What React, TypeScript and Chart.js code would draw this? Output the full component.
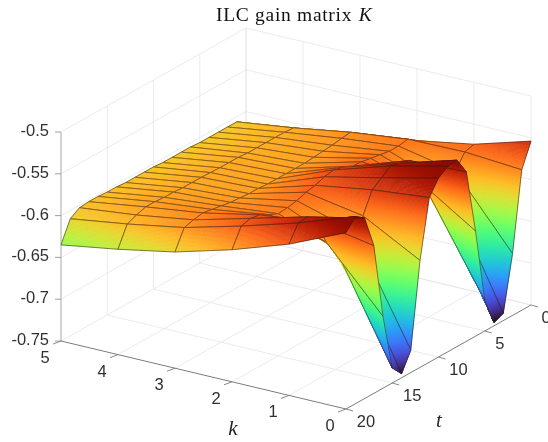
import React, { useEffect, useRef } from "react";
import { Chart, registerables } from "chart.js";

Chart.register(...registerables);

const kValues = [0, 1, 2, 3, 4, 5];
const tValues = [0, 1, 2, 3, 4, 5, 6, 7, 8, 9, 10, 11, 12, 13, 14, 15, 16, 17, 18, 19, 20];
const zTicks = ["-0.5", "-0.55", "-0.6", "-0.65", "-0.7", "-0.75"];
const zTickValues = [-0.5, -0.55, -0.6, -0.65, -0.7, -0.75];
const kTicks = [0, 1, 2, 3, 4, 5];
const tTicks = [0, 5, 10, 15, 20];

// gain values, one row per k, indexed by t = 0..20
const zK0 = [-0.554, -0.582, -0.676, -0.741, -0.746, -0.713, -0.624, -0.547, -0.527, -0.528, -0.536, -0.553, -0.622, -0.723, -0.745, -0.732, -0.664, -0.573, -0.534, -0.526, -0.539];
const zK1 = [-0.574, -0.577, -0.594, -0.605, -0.6, -0.6, -0.58, -0.55, -0.547, -0.544, -0.552, -0.56, -0.585, -0.597, -0.609, -0.605, -0.591, -0.561, -0.549, -0.55, -0.569];
const zK2 = [-0.586, -0.578, -0.58, -0.58, -0.578, -0.576, -0.574, -0.573, -0.568, -0.565, -0.567, -0.571, -0.573, -0.577, -0.579, -0.58, -0.575, -0.569, -0.567, -0.57, -0.592];
const zK3 = [-0.594, -0.586, -0.587, -0.589, -0.59, -0.591, -0.592, -0.592, -0.592, -0.592, -0.592, -0.591, -0.591, -0.59, -0.589, -0.587, -0.585, -0.583, -0.585, -0.588, -0.611];
const zK4 = [-0.6045, -0.597, -0.596, -0.596, -0.596, -0.596, -0.596, -0.595, -0.595, -0.595, -0.5945, -0.594, -0.594, -0.594, -0.593, -0.593, -0.592, -0.592, -0.5955, -0.6, -0.624];
const zK5 = [-0.614, -0.606, -0.606, -0.606, -0.606, -0.606, -0.605, -0.605, -0.605, -0.605, -0.604, -0.604, -0.604, -0.604, -0.603, -0.603, -0.602, -0.602, -0.603, -0.61, -0.635];
const zRows = [zK0, zK1, zK2, zK3, zK4, zK5];

const WIDTH = 548;
const HEIGHT = 442;
const Z_MIN = -0.75;
const Z_MAX = -0.5;

// orthographic view: the k=0,t=20,z=-0.75 corner and one unit along each axis, in plot units
const ORIGIN = { x: 346, y: 409 };
const PER_K = { x: -57, y: -13.6 };
const PER_T = { x: -9.25, y: 5.2 };
const PER_Z = -836;

function project(k: number, t: number, z: number) {
  const dt = t - 20;
  return {
    x: ORIGIN.x + k * PER_K.x + dt * PER_T.x,
    y: ORIGIN.y + k * PER_K.y + dt * PER_T.y + (z - Z_MIN) * PER_Z,
  };
}

function turbo(v: number) {
  const x = Math.min(1, Math.max(0, v));
  const x2 = x * x, x3 = x2 * x, x4 = x3 * x, x5 = x4 * x;
  const r = 0.13572138 + 4.6153926 * x - 42.66032258 * x2 + 132.13108234 * x3 - 152.94239396 * x4 + 59.28637943 * x5;
  const g = 0.09140261 + 2.19418839 * x + 4.84296658 * x2 - 14.18503333 * x3 + 4.27729857 * x4 + 2.82956604 * x5;
  const b = 0.1066733 + 12.64194608 * x - 60.58204836 * x2 + 110.36276771 * x3 - 89.90310912 * x4 + 27.34824973 * x5;
  const c = (n: number) => Math.round(255 * Math.min(1, Math.max(0, n)));
  return `rgb(${c(r)},${c(g)},${c(b)})`;
}

const surfacePlugin = {
  id: "surface3d",
  beforeDatasetsDraw(chart: any) {
    const { ctx, scales } = chart;
    const sx = scales.x, sy = scales.y;
    const px = (p: { x: number; y: number }) => ({ x: sx.getPixelForValue(p.x), y: sy.getPixelForValue(p.y) });
    const at = (k: number, t: number, z: number) => px(project(k, t, z));
    const line = (a: any, b: any, color: string, w = 1) => {
      ctx.strokeStyle = color;
      ctx.lineWidth = w;
      ctx.beginPath();
      ctx.moveTo(a.x, a.y);
      ctx.lineTo(b.x, b.y);
      ctx.stroke();
    };
    const K_MAX = kValues[kValues.length - 1];
    const T_MAX = tValues[tValues.length - 1];
    const GRID = "#e6e6e6";
    const AXIS = "#7c7c7c";

    ctx.save();
    ctx.lineCap = "butt";
    // walls and floor grid
    zTickValues.forEach((z) => {
      line(at(K_MAX, T_MAX, z), at(K_MAX, 0, z), GRID, 0.8);
      line(at(K_MAX, 0, z), at(0, 0, z), GRID, 0.8);
    });
    tTicks.forEach((t) => {
      line(at(K_MAX, t, Z_MIN), at(K_MAX, t, Z_MAX), GRID, 0.8);
      if (t < T_MAX) line(at(K_MAX, t, Z_MIN), at(0, t, Z_MIN), GRID, 0.8);
    });
    kTicks.forEach((k) => {
      line(at(k, 0, Z_MIN), at(k, 0, Z_MAX), GRID, 0.8);
      if (k > 0 && k < K_MAX) line(at(k, 0, Z_MIN), at(k, T_MAX, Z_MIN), GRID, 0.8);
    });

    // axis lines and tick marks
    line(at(K_MAX, T_MAX, Z_MIN), at(K_MAX, T_MAX, Z_MAX), "#b0b0b0", 1);
    line(at(K_MAX, T_MAX, Z_MIN), at(0, T_MAX, Z_MIN), AXIS, 1);
    line(at(0, T_MAX, Z_MIN), at(0, 0, Z_MIN), AXIS, 1);
    zTickValues.forEach((z) => {
      const a = at(K_MAX, T_MAX, z);
      line(a, { x: a.x - 6, y: a.y }, "#a0a0a0", 1);
    });
    kTicks.forEach((k) => {
      const a = at(k, T_MAX, Z_MIN);
      line(a, { x: a.x - 8, y: a.y + 3 }, AXIS, 0.9);
    });
    tTicks.forEach((t) => {
      const a = at(0, t, Z_MIN);
      line(a, { x: a.x + 7, y: a.y + 2 }, AXIS, 0.9);
    });

    // surface, painted from the far corner to the near one
    const range = { lo: Infinity, hi: -Infinity };
    zRows.forEach((r) => r.forEach((z) => { range.lo = Math.min(range.lo, z); range.hi = Math.max(range.hi, z); }));
    const vertex = (k: number, t: number) => px(chart.data.datasets[k].data[t]);
    for (let t = 0; t < T_MAX; t++) {
      for (let k = K_MAX; k > 0; k--) {
        const corners = [
          { p: vertex(k, t), z: zRows[k][t] },
          { p: vertex(k - 1, t), z: zRows[k - 1][t] },
          { p: vertex(k - 1, t + 1), z: zRows[k - 1][t + 1] },
          { p: vertex(k, t + 1), z: zRows[k][t + 1] },
        ];
        const ys = corners.map((c) => c.p.y);
        const STEPS = Math.max(12, Math.ceil((Math.max(...ys) - Math.min(...ys)) / 1.5));
        const bil = (u: number, v: number) => {
          const mix = (f: (c: any) => number) =>
            (1 - u) * (1 - v) * f(corners[0]) + u * (1 - v) * f(corners[1]) + u * v * f(corners[2]) + (1 - u) * v * f(corners[3]);
          return { x: mix((c) => c.p.x), y: mix((c) => c.p.y), z: mix((c) => c.z) };
        };
        ctx.lineWidth = 0.6;
        for (let i = 0; i < STEPS; i++) {
          for (let j = 0; j < STEPS; j++) {
            const a = bil(i / STEPS, j / STEPS);
            const b = bil((i + 1) / STEPS, j / STEPS);
            const c = bil((i + 1) / STEPS, (j + 1) / STEPS);
            const d = bil(i / STEPS, (j + 1) / STEPS);
            const color = turbo(((a.z + b.z + c.z + d.z) / 4 - range.lo) / (range.hi - range.lo));
            ctx.fillStyle = color;
            ctx.strokeStyle = color;
            ctx.beginPath();
            ctx.moveTo(a.x, a.y);
            ctx.lineTo(b.x, b.y);
            ctx.lineTo(c.x, c.y);
            ctx.lineTo(d.x, d.y);
            ctx.closePath();
            ctx.fill();
            ctx.stroke();
          }
        }
        ctx.strokeStyle = "rgba(45,30,20,0.72)";
        ctx.lineWidth = 0.75;
        ctx.beginPath();
        ctx.moveTo(corners[0].p.x, corners[0].p.y);
        corners.slice(1).forEach((c) => ctx.lineTo(c.p.x, c.p.y));
        ctx.closePath();
        ctx.stroke();
      }
    }

    // tick labels
    ctx.fillStyle = "#303030";
    ctx.font = "16.5px 'Liberation Sans'";
    ctx.textBaseline = "middle";
    ctx.textAlign = "right";
    zTickValues.forEach((z, i) => {
      const a = at(K_MAX, T_MAX, z);
      ctx.fillText(zTicks[i], a.x - 12, a.y - 0.5);
    });
    ctx.textAlign = "center";
    kTicks.forEach((k) => {
      const a = at(k, T_MAX, Z_MIN);
      ctx.fillText(String(k), a.x - 16, a.y + 17.5);
    });
    tTicks.forEach((t) => {
      const a = at(0, t, Z_MIN);
      const off = String(t).length > 1 ? 20 : 15;
      ctx.fillText(String(t), a.x + off, a.y + 13.5);
    });

    // axis names and title
    ctx.fillStyle = "#262626";
    ctx.font = "italic 21px 'Liberation Serif'";
    ctx.fillText("k", sx.getPixelForValue(233), sy.getPixelForValue(429));
    ctx.fillText("t", sx.getPixelForValue(439), sy.getPixelForValue(421));
    ctx.font = "19.5px 'Liberation Serif'";
    ctx.textAlign = "left";
    ctx.textBaseline = "alphabetic";
    (ctx as any).letterSpacing = "0.7px";
    ctx.fillStyle = "#111";
    const head = "ILC gain matrix ";
    ctx.fillText(head, 216, 21);
    const w = ctx.measureText(head).width;
    ctx.font = "italic 19.5px 'Liberation Serif'";
    ctx.fillText("K", 216 + w + 1, 21);
    ctx.restore();
  },
};

export default function App() {
  const ref = useRef<HTMLCanvasElement>(null);
  useEffect(() => {
    if (!ref.current) return;
    const chart = new Chart(ref.current, {
      type: "scatter",
      data: {
        datasets: kValues.map((k, i) => ({
          label: `k = ${k}`,
          data: tValues.map((t, j) => project(k, t, zRows[i][j])),
          showLine: false,
          pointRadius: 0,
        })),
      },
      options: {
        animation: false,
        responsive: false,
        devicePixelRatio: 1,
        layout: { padding: 0 },
        plugins: { legend: { display: false }, tooltip: { enabled: false }, title: { display: false } },
        scales: {
          x: { type: "linear", display: false, min: 0, max: WIDTH },
          y: { type: "linear", display: false, min: 0, max: HEIGHT, reverse: true },
        },
      },
      plugins: [surfacePlugin],
    } as any);
    return () => chart.destroy();
  }, []);
  return (
    <canvas
      ref={ref}
      width={WIDTH}
      height={HEIGHT}
      style={{ position: "absolute", left: 0, top: 0, display: "block", filter: "blur(0.3px)" }}
    />
  );
}
